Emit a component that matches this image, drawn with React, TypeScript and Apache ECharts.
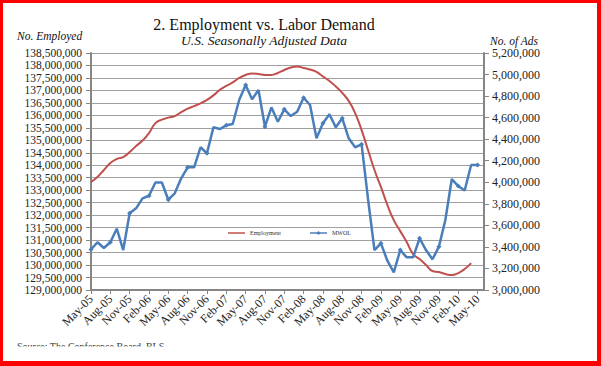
import React, { useEffect, useRef } from "react";
import * as echarts from "echarts";

const months = [
  "May-05", "Jun-05", "Jul-05", "Aug-05", "Sep-05", "Oct-05", "Nov-05", "Dec-05",
  "Jan-06", "Feb-06", "Mar-06", "Apr-06", "May-06", "Jun-06", "Jul-06", "Aug-06", "Sep-06", "Oct-06", "Nov-06", "Dec-06",
  "Jan-07", "Feb-07", "Mar-07", "Apr-07", "May-07", "Jun-07", "Jul-07", "Aug-07", "Sep-07", "Oct-07", "Nov-07", "Dec-07",
  "Jan-08", "Feb-08", "Mar-08", "Apr-08", "May-08", "Jun-08", "Jul-08", "Aug-08", "Sep-08", "Oct-08", "Nov-08", "Dec-08",
  "Jan-09", "Feb-09", "Mar-09", "Apr-09", "May-09", "Jun-09", "Jul-09", "Aug-09", "Sep-09", "Oct-09", "Nov-09", "Dec-09",
  "Jan-10", "Feb-10", "Mar-10", "Apr-10", "May-10", "Jun-10",
];

// No. Employed (left axis)
const employment = [
  133330000, 133530000, 133810000, 134090000, 134250000, 134330000, 134530000, 134770000,
  134990000, 135290000, 135690000, 135830000, 135910000, 135970000, 136130000, 136270000,
  136370000, 136480000, 136620000, 136800000, 137020000, 137180000, 137320000, 137500000,
  137620000, 137680000, 137660000, 137620000, 137620000, 137700000, 137820000, 137920000,
  137960000, 137900000, 137840000, 137740000, 137560000, 137380000, 137160000, 136900000,
  136580000, 136090000, 135410000, 134610000, 133810000, 133130000, 132410000, 131800000,
  131360000, 130920000, 130440000, 130240000, 130000000, 129760000, 129720000, 129640000,
  129600000, 129680000, 129840000, 130080000, null, null,
];

// No. of Ads, MWOL (right axis)
const mwol = [
  3376000, 3443000, 3390000, 3443000, 3569000, 3371000, 3712000, 3758000, 3851000, 3875000,
  3998000, 3998000, 3838000, 3898000, 4037000, 4139000, 4139000, 4325000, 4269000, 4510000,
  4494000, 4529000, 4541000, 4764000, 4903000, 4770000, 4857000, 4516000, 4696000, 4562000,
  4677000, 4615000, 4655000, 4785000, 4717000, 4408000, 4547000, 4631000, 4510000, 4594000,
  4408000, 4325000, 4352000, 3845000, 3371000, 3433000, 3272000, 3164000, 3371000, 3303000,
  3303000, 3480000, 3371000, 3285000, 3402000, 3650000, 4030000, 3965000, 3924000, 4160000,
  4160000, null,
];

const seriesNames = ["Employment", "MWOL"];
const leftAxisRange = [129000000, 138500000];
const leftAxisStep = 500000;
const rightAxisRange = [3000000, 5200000];
const rightAxisStep = 200000;

const FONT = '"Liberation Serif", "DejaVu Serif", serif';
const RED = "#c0504d";
const BLUE = "#4a7ebb";

export default function App() {
  const ref = useRef<HTMLDivElement>(null);

  useEffect(() => {
    if (!ref.current) return;
    const chart = echarts.init(ref.current, undefined, { renderer: "svg" });
    const fmt = (v: number) => Math.round(v).toLocaleString("en-US");
    chart.setOption({
      animation: false,
      backgroundColor: "#ffffff",
      grid: { left: 91, top: 53, right: 117, bottom: 76, containLabel: false },
      xAxis: {
        type: "category",
        data: months,
        boundaryGap: false,
        axisLine: { show: true, lineStyle: { color: "#868686", width: 2 } },
        axisTick: { show: true, interval: 2, length: 4, lineStyle: { color: "#868686" } },
        axisLabel: {
          interval: 2,
          rotate: 45,
          margin: 7,
          fontFamily: FONT,
          fontSize: 12,
          color: "#222",
        },
        splitLine: { show: false },
      },
      yAxis: [
        {
          type: "value",
          position: "left",
          min: leftAxisRange[0],
          max: leftAxisRange[1],
          interval: leftAxisStep,
          axisLine: { show: true, lineStyle: { color: "#868686", width: 2 } },
          axisTick: { show: true, length: 5, lineStyle: { color: "#868686" } },
          axisLabel: {
            margin: 9,
            fontFamily: FONT,
            fontSize: 11.5,
            lineHeight: 11,
            color: "#222",
            formatter: fmt,
          },
          splitLine: { show: true, lineStyle: { color: "#a0a0a0", width: 1 } },
        },
        {
          type: "value",
          position: "right",
          min: rightAxisRange[0],
          max: rightAxisRange[1],
          interval: rightAxisStep,
          axisLine: { show: true, lineStyle: { color: "#868686", width: 2 } },
          axisTick: { show: true, length: 5, lineStyle: { color: "#868686" } },
          axisLabel: {
            margin: 8,
            fontFamily: FONT,
            fontSize: 12,
            color: "#222",
            formatter: fmt,
          },
          splitLine: { show: false },
        },
      ],
      series: [
        {
          name: seriesNames[0],
          type: "line",
          yAxisIndex: 0,
          data: employment,
          smooth: true,
          symbol: "none",
          lineStyle: { color: RED, width: 2 },
          itemStyle: { color: RED },
          z: 2,
        },
        {
          name: seriesNames[1],
          type: "line",
          yAxisIndex: 1,
          data: mwol,
          symbol: "diamond",
          symbolSize: 5,
          lineStyle: { color: BLUE, width: 2.5 },
          itemStyle: { color: BLUE },
          z: 3,
        },
      ],
      graphic: [
        {
          type: "text",
          x: 264,
          y: 24,
          style: {
            text: "2. Employment vs. Labor Demand",
            font: `16px ${FONT}`,
            fill: "#111",
            textAlign: "center",
            textVerticalAlign: "middle",
          },
        },
        {
          type: "text",
          x: 264,
          y: 40,
          style: {
            text: "U.S. Seasonally Adjusted Data",
            font: `italic 13.5px ${FONT}`,
            fill: "#111",
            textAlign: "center",
            textVerticalAlign: "middle",
          },
        },
        {
          type: "text",
          x: 17,
          y: 36,
          style: {
            text: "No. Employed",
            font: `italic 11.5px ${FONT}`,
            fill: "#111",
            textAlign: "left",
            textVerticalAlign: "middle",
          },
        },
        {
          type: "text",
          x: 490,
          y: 41,
          style: {
            text: "No. of Ads",
            font: `italic 11.5px ${FONT}`,
            fill: "#111",
            textAlign: "left",
            textVerticalAlign: "middle",
          },
        },
        // legend
        {
          type: "line",
          z: 50,
          shape: { x1: 228, y1: 233, x2: 245, y2: 233 },
          style: { stroke: RED, lineWidth: 1.5 },
        },
        {
          type: "text",
          x: 250,
          y: 233,
          z: 50,
          style: {
            text: seriesNames[0],
            font: `6px ${FONT}`,
            fill: "#333",
            textAlign: "left",
            textVerticalAlign: "middle",
          },
        },
        {
          type: "line",
          z: 50,
          shape: { x1: 310, y1: 233, x2: 327, y2: 233 },
          style: { stroke: BLUE, lineWidth: 1.5 },
        },
        {
          type: "polygon",
          z: 50,
          shape: { points: [[318.5, 231], [320.5, 233], [318.5, 235], [316.5, 233]] },
          style: { fill: BLUE },
        },
        {
          type: "text",
          x: 332,
          y: 233,
          z: 50,
          style: {
            text: seriesNames[1],
            font: `6px ${FONT}`,
            fill: "#333",
            textAlign: "left",
            textVerticalAlign: "middle",
          },
        },
        {
          type: "text",
          x: 17,
          y: 341,
          z: 100,
          style: {
            text: "Source: The Conference Board, BLS",
            font: `10px ${FONT}`,
            fill: "#333",
            textAlign: "left",
            textVerticalAlign: "top",
          },
        },
        {
          type: "rect",
          z: 101,
          shape: { x: 3, y: 346.5, width: 594, height: 15 },
          style: { fill: "#ffffff" },
        },
        { type: "rect", z: 110, shape: { x: 0, y: 0, width: 601, height: 3 }, style: { fill: "#ff0000" } },
        { type: "rect", z: 110, shape: { x: 0, y: 0, width: 3, height: 366 }, style: { fill: "#ff0000" } },
        { type: "rect", z: 110, shape: { x: 597, y: 0, width: 4, height: 366 }, style: { fill: "#ff0000" } },
        { type: "rect", z: 110, shape: { x: 0, y: 361, width: 601, height: 5 }, style: { fill: "#ff0000" } },
      ],
    });
    return () => chart.dispose();
  }, []);

  return (
    <div
      ref={ref}
      style={{ position: "absolute", left: 0, top: 0, width: 601, height: 366, background: "#fff" }}
    />
  );
}
